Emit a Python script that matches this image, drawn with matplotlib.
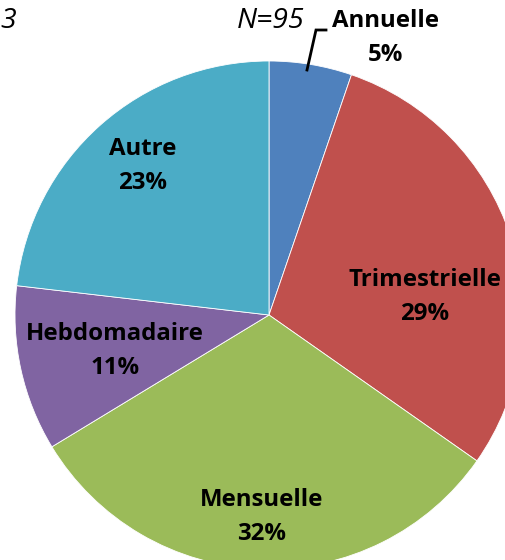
import matplotlib.pyplot as plt

# parts (counts out of N=95), clockwise from 12 o'clock
categories = ['Annuelle', 'Trimestrielle', 'Mensuelle', 'Hebdomadaire', 'Autre']
counts = [5, 28, 30, 10, 22]
percent_labels = ['5%', '29%', '32%', '11%', '23%']
colors = ['#4F81BD', '#C0504D', '#9BBB59', '#8064A2', '#4BACC6']
n_total = 95

W, H = 506, 560
cx, cy, r = 269, 315, 254   # pie center / radius in pixels


def to_data(px, py):
    return (px - cx) / r, (cy - py) / r


plt.rcParams['font.family'] = ['Open Sans', 'DejaVu Sans']

fig = plt.figure(figsize=(W / 100, H / 100), dpi=100)
ax = fig.add_axes([0, 0, 1, 1])
ax.pie(counts, colors=colors, startangle=90, counterclock=False, radius=1,
       wedgeprops=dict(linewidth=0.6, edgecolor='white'))
ax.set_xlim(-cx / r, (W - cx) / r)
ax.set_ylim(-(H - cy) / r, cy / r)
ax.set_aspect('auto')
ax.axis('off')

# label centres in pixels
label_pos = {
    'Annuelle': (386, 38),
    'Trimestrielle': (425, 297),
    'Mensuelle': (262, 517),
    'Hebdomadaire': (115, 351),
    'Autre': (143, 166),
}
for cat, pct in zip(categories, percent_labels):
    x, y = to_data(*label_pos[cat])
    ax.text(x, y, cat + '\n' + pct, ha='center', va='center', fontsize=17.3,
            fontweight='bold', linespacing=1.55, color='black')

# leader line for Annuelle
lx, ly = zip(to_data(326, 30), to_data(316, 30), to_data(307, 70))
ax.plot(lx, ly, color='black', lw=2, solid_joinstyle='miter')

x, y = to_data(271, 21)
ax.text(x, y, 'N=%d' % n_total, ha='center', va='center', fontsize=20.5,
        style='italic')
x, y = to_data(0, 21)
ax.text(x, y, '3', ha='left', va='center', fontsize=20.5, style='italic')

fig.savefig('out.png', dpi=100)
